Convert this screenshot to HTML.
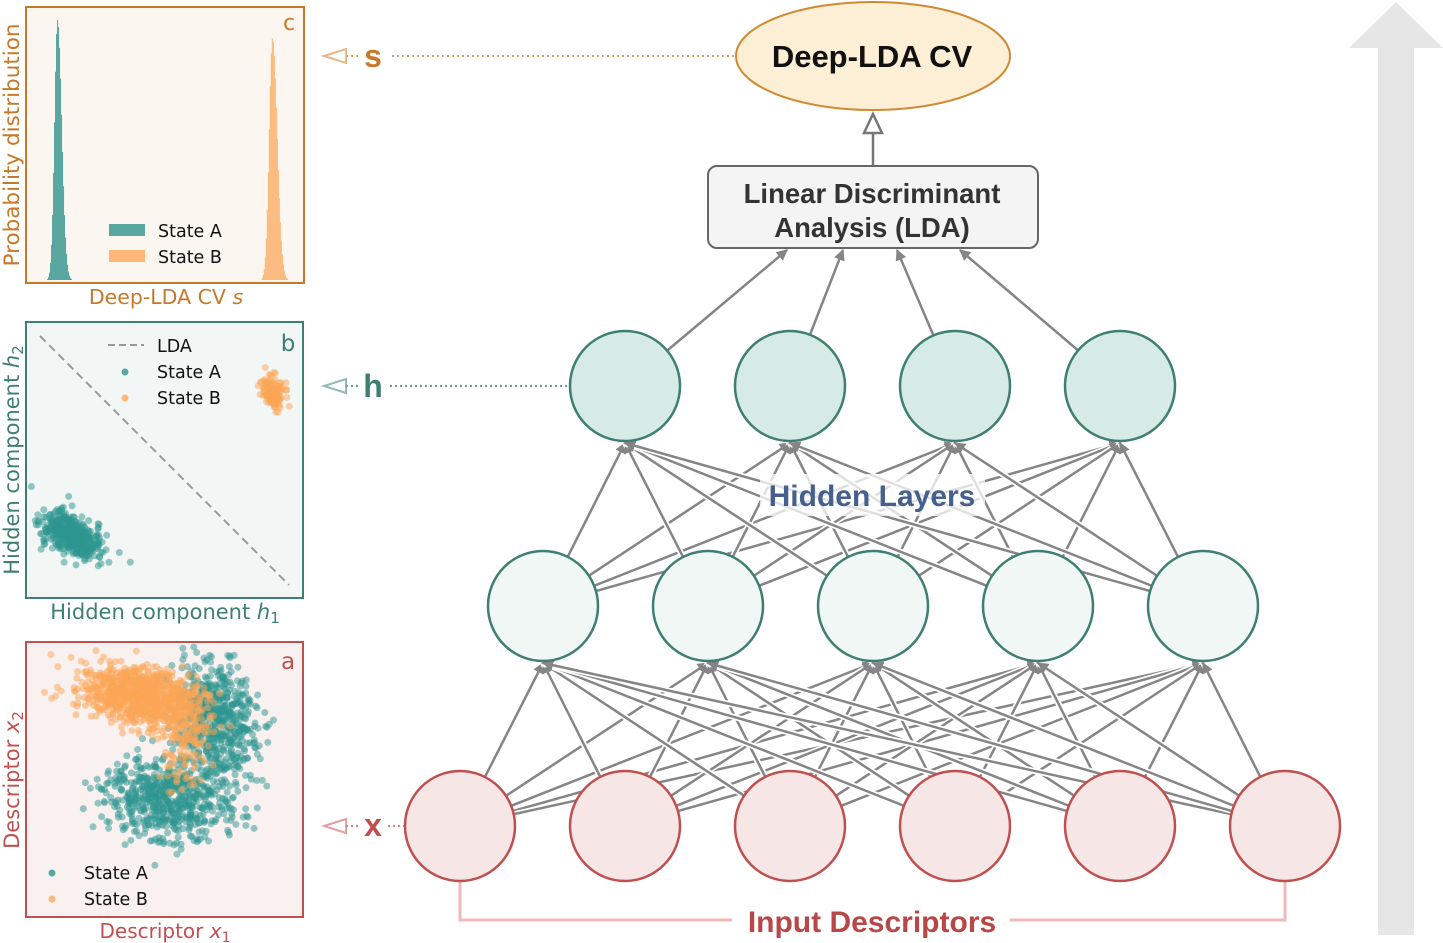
<!DOCTYPE html>
<html><head><meta charset="utf-8"><style>
html,body{margin:0;padding:0;background:#fff;}
svg{display:block;font-family:"DejaVu Sans","Liberation Sans",sans-serif;}
.b{font-family:"Liberation Sans",sans-serif;font-weight:bold;}
</style></head><body>
<svg id="s" width="1443" height="943" viewBox="0 0 1443 943" xmlns="http://www.w3.org/2000/svg">
<defs>
<marker id="ah" viewBox="0 0 10 10" refX="9" refY="5" markerWidth="4.5" markerHeight="4.5" orient="auto"><path d="M0,0L10,5L0,10z" fill="#858585"/></marker>
</defs>
<polygon points="1349,48 1396,2 1443,48 1414,48 1414,935 1378,935 1378,48" fill="#e6e6e6"/>
<rect x="26" y="7" width="278" height="276" fill="#fbf6ef" stroke="#c8782a" stroke-width="2"/>
<rect x="26" y="322" width="277" height="276" fill="#f2f6f5" stroke="#3f7f72" stroke-width="2"/>
<rect x="26" y="642" width="277" height="275" fill="#f9f1f0" stroke="#c05050" stroke-width="2"/>
<g id="plots"></g>
<line x1="40" y1="336" x2="289" y2="585" stroke="#999" stroke-width="2" stroke-dasharray="8,5"/>
<text x="289" y="30" font-size="22" fill="#c8782a" text-anchor="middle">c</text>
<text x="288" y="351" font-size="23" fill="#3f7f72" text-anchor="middle">b</text>
<text x="288" y="669" font-size="23" fill="#c05050" text-anchor="middle">a</text>
<text x="166" y="304" font-size="20.5" fill="#c8782a" text-anchor="middle">Deep-LDA CV <tspan font-style="italic">s</tspan></text>
<text transform="translate(19,145) rotate(-90)" font-size="21.5" fill="#c8782a" text-anchor="middle">Probability distribution</text>
<text x="165" y="619" font-size="21" fill="#3f7f72" text-anchor="middle">Hidden component <tspan font-style="italic">h</tspan><tspan font-size="15" dy="4">1</tspan></text>
<text transform="translate(19,460) rotate(-90)" font-size="21" fill="#3f7f72" text-anchor="middle">Hidden component <tspan font-style="italic">h</tspan><tspan font-size="15" dy="4">2</tspan></text>
<text x="165" y="938" font-size="20" fill="#c05050" text-anchor="middle">Descriptor <tspan font-style="italic">x</tspan><tspan font-size="14" dy="4">1</tspan></text>
<text transform="translate(19,780) rotate(-90)" font-size="21" fill="#c05050" text-anchor="middle">Descriptor <tspan font-style="italic">x</tspan><tspan font-size="15" dy="4">2</tspan></text>
<rect x="109" y="224" width="36" height="12" fill="#5aa6a0"/><rect x="109" y="250" width="36" height="12" fill="#fdb777"/>
<text x="158" y="237" font-size="17.5" fill="#111">State A</text><text x="158" y="263" font-size="17.5" fill="#111">State B</text>
<line x1="108" y1="345" x2="144" y2="345" stroke="#999" stroke-width="2" stroke-dasharray="7,4"/>
<circle cx="125" cy="372" r="3.5" fill="#5aa6a0"/><circle cx="125" cy="398" r="3.5" fill="#fdb777"/>
<text x="157" y="352" font-size="17.5" fill="#111">LDA</text><text x="157" y="378" font-size="17.5" fill="#111">State A</text><text x="157" y="404" font-size="17.5" fill="#111">State B</text>
<circle cx="52" cy="873" r="3.5" fill="#5aa6a0"/><circle cx="52" cy="899" r="3.5" fill="#fdb777"/>
<text x="84" y="879" font-size="17.5" fill="#111">State A</text><text x="84" y="905" font-size="17.5" fill="#111">State B</text>
<g fill="none" stroke-width="2">
<polygon points="324,56 346,49 346,63" stroke="#e3b98a"/><line x1="346" y1="56" x2="360" y2="56" stroke="#d8a060" stroke-dasharray="2,3"/>
<line x1="392" y1="56" x2="735" y2="56" stroke="#d8a060" stroke-dasharray="2,3"/>
<polygon points="324,386 346,379 346,393" stroke="#92bab2"/><line x1="346" y1="386" x2="360" y2="386" stroke="#6a9e94" stroke-dasharray="2,3"/>
<line x1="390" y1="386" x2="570" y2="386" stroke="#6a9e94" stroke-dasharray="2,3"/>
<polygon points="324,826 346,819 346,833" stroke="#e0a0a0"/><line x1="346" y1="826" x2="360" y2="826" stroke="#d08080" stroke-dasharray="2,3"/>
<line x1="388" y1="826" x2="405" y2="826" stroke="#d08080" stroke-dasharray="2,3"/>
</g>
<text x="373" y="67" font-size="32" class="b" fill="#c8782a" text-anchor="middle">s</text>
<text x="373" y="397" font-size="32" class="b" fill="#3f7f72" text-anchor="middle">h</text>
<text x="373" y="836" font-size="32" class="b" fill="#c05050" text-anchor="middle">x</text>
<polyline points="460,880 460,920 1285,920 1285,880" fill="none" stroke="#f0b8b8" stroke-width="3"/>
<rect x="732" y="903" width="278" height="36" fill="#fff"/>
<text x="872" y="932" font-size="30" class="b" fill="#b84848" text-anchor="middle">Input Descriptors</text>
<g id="net"></g>
<line x1="873" y1="166" x2="873" y2="133" stroke="#777" stroke-width="2.5"/>
<polygon points="873,114 864,133 882,133" fill="#fff" stroke="#777" stroke-width="2.5"/>
<ellipse cx="873" cy="56" rx="137" ry="54" fill="#fdefd6" stroke="#d08a30" stroke-width="2"/>
<text x="872" y="67" font-size="31" class="b" fill="#111" text-anchor="middle">Deep-LDA CV</text>
<rect x="708" y="166" width="330" height="82" rx="9" fill="#f4f4f4" stroke="#666" stroke-width="2"/>
<text x="872" y="203" font-size="27.5" class="b" fill="#333" text-anchor="middle">Linear Discriminant</text>
<text x="872" y="237" font-size="27.5" class="b" fill="#333" text-anchor="middle">Analysis (LDA)</text>
</svg>
<script>
(function(){
var NS="http://www.w3.org/2000/svg";
function el(p,t,a){var e=document.createElementNS(NS,t);for(var k in a)e.setAttribute(k,a[k]);p.appendChild(e);return e;}
var seed=7;function r(){seed=(seed*16807)%2147483647;return seed/2147483647;}
function g(){var u=r()||1e-9,v=r();return Math.sqrt(-2*Math.log(u))*Math.cos(2*Math.PI*v);}
var P=document.getElementById('plots');
var T="#2e9690",O="#fca655";
function hist(cx,sig,top,col){for(var x=cx-4*sig;x<cx+6*sig;x+=1){var d=(x-cx)/sig;var s=d>0?1.4:1;d=d/s;var h=(280-top)*Math.exp(-d*d/2);if(h<1)continue;el(P,'rect',{x:x,y:280-h,width:1.05,height:h,fill:col});}}
hist(57,3,20,"#5aa6a0");hist(272,3.3,38,"#fdb777");
function dots(n,cx,cy,sx,sy,rho,col,xmin,xmax,ymin,ymax){for(var i=0;i<n;i++){var a=g(),b=g();var x=cx+sx*a,y=cy+sy*(rho*a+Math.sqrt(1-rho*rho)*b);if(x<xmin||x>xmax||y<ymin||y>ymax)continue;el(P,'circle',{cx:x,cy:y,r:3.5,fill:col,'fill-opacity':0.5});}}
dots(500,72,535,15,11,0.55,T,30,300,326,594);
dots(120,273,393,6,9,0.2,O,30,300,326,594);
dots(600,215,720,20,30,0.1,T,30,300,646,914);
dots(600,170,800,33,20,0.1,T,30,300,646,914);
dots(900,140,695,30,15,0.3,O,30,300,646,914);
dots(120,185,740,12,22,0,O,30,300,646,914);
var N=document.getElementById('net');
var L0=[460,625,790,955,1120,1285].map(function(x){return[x,826];});
var L1=[543,708,873,1038,1203].map(function(x){return[x,606];});
var L2=[625,790,955,1120].map(function(x){return[x,386];});
var R=55;
function conn(A,B){A.forEach(function(a){B.forEach(function(b){var ex=b[0],ey=b[1]+R+2;var dx=ex-a[0],dy=ey-a[1],l=Math.hypot(dx,dy),ux=dx/l,uy=dy/l;
var x1=a[0]+ux*R,y1=a[1]+uy*R;
el(N,'line',{x1:x1,y1:y1,x2:ex,y2:ey,stroke:'#fff','stroke-width':6});
el(N,'line',{x1:x1,y1:y1,x2:ex,y2:ey,stroke:'#858585','stroke-width':2.5,'marker-end':'url(#ah)'});});});}
conn(L0,L1);conn(L1,L2);
el(N,'rect',{x:760,y:474,width:225,height:42,fill:'#fff','fill-opacity':0.75});
var t=el(N,'text',{x:872,y:506,'font-size':30,'class':'b',fill:'#45608c','text-anchor':'middle'});t.textContent="Hidden Layers";
var tg=[787,843,897,960];
L2.forEach(function(b,i){var dx=tg[i]-b[0],dy=250-b[1],l=Math.hypot(dx,dy);el(N,'line',{x1:b[0]+dx/l*R,y1:b[1]+dy/l*R,x2:tg[i],y2:250,stroke:'#858585','stroke-width':2.5,'marker-end':'url(#ah)'});});
L0.forEach(function(p){el(N,'circle',{cx:p[0],cy:p[1],r:R,fill:'#f7e6e6',stroke:'#c05050','stroke-width':2.5});});
L1.forEach(function(p){el(N,'circle',{cx:p[0],cy:p[1],r:R,fill:'#f0f7f5',stroke:'#3f7f72','stroke-width':2.5});});
L2.forEach(function(p){el(N,'circle',{cx:p[0],cy:p[1],r:R,fill:'#d6ebe5',stroke:'#3f7f72','stroke-width':2.5});});
})();
</script>
</body></html>
